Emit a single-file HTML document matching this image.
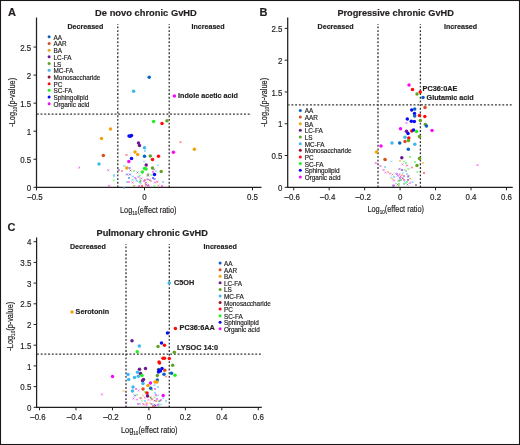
<!DOCTYPE html>
<html><head><meta charset="utf-8"><style>
html,body{margin:0;padding:0;background:#fff;}
svg{display:block;font-family:"Liberation Sans", sans-serif;will-change:transform;}
svg text{stroke:#231f20;stroke-width:0.18px;}
</style></head><body>
<svg width="520" height="445" viewBox="0 0 520 445">
<rect x="0.5" y="0.5" width="519" height="444" fill="none" stroke="#1b1718" stroke-width="1.1"/>
<line x1="117.8" y1="24" x2="117.8" y2="187.3" stroke="#333" stroke-width="1.3" stroke-dasharray="1.9 1.8" stroke-dashoffset="1.25"/>
<line x1="169.2" y1="24" x2="169.2" y2="187.3" stroke="#333" stroke-width="1.3" stroke-dasharray="1.9 1.8" stroke-dashoffset="1.25"/>
<line x1="37.1" y1="114.2" x2="251.5" y2="114.2" stroke="#333" stroke-width="1.25" stroke-dasharray="1.9 1.8" stroke-dashoffset="0.25"/>
<path d="M36.5,17.5 V187.3 H261.5" fill="none" stroke="#231f20" stroke-width="1.25"/>
<line x1="36.50" y1="187.3" x2="36.50" y2="190.3" stroke="#231f20" stroke-width="1"/>
<text transform="translate(35.00,200.00) scale(0.9,1)" font-size="8.8" font-weight="400" text-anchor="middle" fill="#231f20">&#8211;0.5</text>
<line x1="144.50" y1="187.3" x2="144.50" y2="190.3" stroke="#231f20" stroke-width="1"/>
<text transform="translate(144.50,200.00) scale(0.9,1)" font-size="8.8" font-weight="400" text-anchor="middle" fill="#231f20">0</text>
<line x1="252.50" y1="187.3" x2="252.50" y2="190.3" stroke="#231f20" stroke-width="1"/>
<text transform="translate(252.50,200.00) scale(0.9,1)" font-size="8.8" font-weight="400" text-anchor="middle" fill="#231f20">0.5</text>
<line x1="33.5" y1="187.30" x2="36.5" y2="187.30" stroke="#231f20" stroke-width="1"/>
<text transform="translate(31.20,190.90) scale(0.9,1)" font-size="8.8" font-weight="400" text-anchor="end" fill="#231f20">0</text>
<line x1="33.5" y1="159.25" x2="36.5" y2="159.25" stroke="#231f20" stroke-width="1"/>
<text transform="translate(31.20,162.85) scale(0.9,1)" font-size="8.8" font-weight="400" text-anchor="end" fill="#231f20">0.5</text>
<line x1="33.5" y1="131.20" x2="36.5" y2="131.20" stroke="#231f20" stroke-width="1"/>
<text transform="translate(31.20,134.80) scale(0.9,1)" font-size="8.8" font-weight="400" text-anchor="end" fill="#231f20">1</text>
<line x1="33.5" y1="103.15" x2="36.5" y2="103.15" stroke="#231f20" stroke-width="1"/>
<text transform="translate(31.20,106.75) scale(0.9,1)" font-size="8.8" font-weight="400" text-anchor="end" fill="#231f20">1.5</text>
<line x1="33.5" y1="75.10" x2="36.5" y2="75.10" stroke="#231f20" stroke-width="1"/>
<text transform="translate(31.20,78.70) scale(0.9,1)" font-size="8.8" font-weight="400" text-anchor="end" fill="#231f20">2</text>
<line x1="33.5" y1="47.05" x2="36.5" y2="47.05" stroke="#231f20" stroke-width="1"/>
<text transform="translate(31.20,50.65) scale(0.9,1)" font-size="8.8" font-weight="400" text-anchor="end" fill="#231f20">2.5</text>
<line x1="378.0" y1="24" x2="378.0" y2="187.3" stroke="#333" stroke-width="1.3" stroke-dasharray="1.9 1.8" stroke-dashoffset="1.25"/>
<line x1="420.4" y1="24" x2="420.4" y2="187.3" stroke="#333" stroke-width="1.3" stroke-dasharray="1.9 1.8" stroke-dashoffset="1.25"/>
<line x1="288.3" y1="104.8" x2="512.0" y2="104.8" stroke="#333" stroke-width="1.25" stroke-dasharray="1.9 1.8" stroke-dashoffset="0.55"/>
<path d="M287.7,17.5 V187.3 H512.8" fill="none" stroke="#231f20" stroke-width="1.25"/>
<line x1="293.72" y1="187.3" x2="293.72" y2="190.3" stroke="#231f20" stroke-width="1"/>
<text transform="translate(292.22,200.00) scale(0.9,1)" font-size="8.8" font-weight="400" text-anchor="middle" fill="#231f20">&#8211;0.6</text>
<line x1="329.18" y1="187.3" x2="329.18" y2="190.3" stroke="#231f20" stroke-width="1"/>
<text transform="translate(327.68,200.00) scale(0.9,1)" font-size="8.8" font-weight="400" text-anchor="middle" fill="#231f20">&#8211;0.4</text>
<line x1="364.64" y1="187.3" x2="364.64" y2="190.3" stroke="#231f20" stroke-width="1"/>
<text transform="translate(363.14,200.00) scale(0.9,1)" font-size="8.8" font-weight="400" text-anchor="middle" fill="#231f20">&#8211;0.2</text>
<line x1="400.10" y1="187.3" x2="400.10" y2="190.3" stroke="#231f20" stroke-width="1"/>
<text transform="translate(400.10,200.00) scale(0.9,1)" font-size="8.8" font-weight="400" text-anchor="middle" fill="#231f20">0</text>
<line x1="435.56" y1="187.3" x2="435.56" y2="190.3" stroke="#231f20" stroke-width="1"/>
<text transform="translate(435.56,200.00) scale(0.9,1)" font-size="8.8" font-weight="400" text-anchor="middle" fill="#231f20">0.2</text>
<line x1="471.02" y1="187.3" x2="471.02" y2="190.3" stroke="#231f20" stroke-width="1"/>
<text transform="translate(471.02,200.00) scale(0.9,1)" font-size="8.8" font-weight="400" text-anchor="middle" fill="#231f20">0.4</text>
<line x1="506.48" y1="187.3" x2="506.48" y2="190.3" stroke="#231f20" stroke-width="1"/>
<text transform="translate(506.48,200.00) scale(0.9,1)" font-size="8.8" font-weight="400" text-anchor="middle" fill="#231f20">0.6</text>
<line x1="284.7" y1="187.30" x2="287.7" y2="187.30" stroke="#231f20" stroke-width="1"/>
<text transform="translate(282.40,190.90) scale(0.9,1)" font-size="8.8" font-weight="400" text-anchor="end" fill="#231f20">0</text>
<line x1="284.7" y1="155.52" x2="287.7" y2="155.52" stroke="#231f20" stroke-width="1"/>
<text transform="translate(282.40,159.12) scale(0.9,1)" font-size="8.8" font-weight="400" text-anchor="end" fill="#231f20">0.5</text>
<line x1="284.7" y1="123.74" x2="287.7" y2="123.74" stroke="#231f20" stroke-width="1"/>
<text transform="translate(282.40,127.34) scale(0.9,1)" font-size="8.8" font-weight="400" text-anchor="end" fill="#231f20">1</text>
<line x1="284.7" y1="91.96" x2="287.7" y2="91.96" stroke="#231f20" stroke-width="1"/>
<text transform="translate(282.40,95.56) scale(0.9,1)" font-size="8.8" font-weight="400" text-anchor="end" fill="#231f20">1.5</text>
<line x1="284.7" y1="60.18" x2="287.7" y2="60.18" stroke="#231f20" stroke-width="1"/>
<text transform="translate(282.40,63.78) scale(0.9,1)" font-size="8.8" font-weight="400" text-anchor="end" fill="#231f20">2</text>
<line x1="284.7" y1="28.40" x2="287.7" y2="28.40" stroke="#231f20" stroke-width="1"/>
<text transform="translate(282.40,32.00) scale(0.9,1)" font-size="8.8" font-weight="400" text-anchor="end" fill="#231f20">2.5</text>
<line x1="126.0" y1="244" x2="126.0" y2="407.3" stroke="#333" stroke-width="1.3" stroke-dasharray="1.9 1.8" stroke-dashoffset="1.25"/>
<line x1="169.3" y1="244" x2="169.3" y2="407.3" stroke="#333" stroke-width="1.3" stroke-dasharray="1.9 1.8" stroke-dashoffset="1.25"/>
<line x1="37.2" y1="354.0" x2="260.8" y2="354.0" stroke="#333" stroke-width="1.25" stroke-dasharray="1.9 1.8" stroke-dashoffset="0.2"/>
<path d="M36.6,237.5 V407.3 H261.8" fill="none" stroke="#231f20" stroke-width="1.25"/>
<line x1="39.52" y1="407.3" x2="39.52" y2="410.3" stroke="#231f20" stroke-width="1"/>
<text transform="translate(38.02,420.00) scale(0.9,1)" font-size="8.8" font-weight="400" text-anchor="middle" fill="#231f20">&#8211;0.6</text>
<line x1="75.98" y1="407.3" x2="75.98" y2="410.3" stroke="#231f20" stroke-width="1"/>
<text transform="translate(74.48,420.00) scale(0.9,1)" font-size="8.8" font-weight="400" text-anchor="middle" fill="#231f20">&#8211;0.4</text>
<line x1="112.44" y1="407.3" x2="112.44" y2="410.3" stroke="#231f20" stroke-width="1"/>
<text transform="translate(110.94,420.00) scale(0.9,1)" font-size="8.8" font-weight="400" text-anchor="middle" fill="#231f20">&#8211;0.2</text>
<line x1="148.90" y1="407.3" x2="148.90" y2="410.3" stroke="#231f20" stroke-width="1"/>
<text transform="translate(148.90,420.00) scale(0.9,1)" font-size="8.8" font-weight="400" text-anchor="middle" fill="#231f20">0</text>
<line x1="185.36" y1="407.3" x2="185.36" y2="410.3" stroke="#231f20" stroke-width="1"/>
<text transform="translate(185.36,420.00) scale(0.9,1)" font-size="8.8" font-weight="400" text-anchor="middle" fill="#231f20">0.2</text>
<line x1="221.82" y1="407.3" x2="221.82" y2="410.3" stroke="#231f20" stroke-width="1"/>
<text transform="translate(221.82,420.00) scale(0.9,1)" font-size="8.8" font-weight="400" text-anchor="middle" fill="#231f20">0.4</text>
<line x1="258.28" y1="407.3" x2="258.28" y2="410.3" stroke="#231f20" stroke-width="1"/>
<text transform="translate(258.28,420.00) scale(0.9,1)" font-size="8.8" font-weight="400" text-anchor="middle" fill="#231f20">0.6</text>
<line x1="33.6" y1="407.30" x2="36.6" y2="407.30" stroke="#231f20" stroke-width="1"/>
<text transform="translate(31.30,410.90) scale(0.9,1)" font-size="8.8" font-weight="400" text-anchor="end" fill="#231f20">0</text>
<line x1="33.6" y1="386.60" x2="36.6" y2="386.60" stroke="#231f20" stroke-width="1"/>
<text transform="translate(31.30,390.20) scale(0.9,1)" font-size="8.8" font-weight="400" text-anchor="end" fill="#231f20">0.5</text>
<line x1="33.6" y1="365.90" x2="36.6" y2="365.90" stroke="#231f20" stroke-width="1"/>
<text transform="translate(31.30,369.50) scale(0.9,1)" font-size="8.8" font-weight="400" text-anchor="end" fill="#231f20">1</text>
<line x1="33.6" y1="345.20" x2="36.6" y2="345.20" stroke="#231f20" stroke-width="1"/>
<text transform="translate(31.30,348.80) scale(0.9,1)" font-size="8.8" font-weight="400" text-anchor="end" fill="#231f20">1.5</text>
<line x1="33.6" y1="324.50" x2="36.6" y2="324.50" stroke="#231f20" stroke-width="1"/>
<text transform="translate(31.30,328.10) scale(0.9,1)" font-size="8.8" font-weight="400" text-anchor="end" fill="#231f20">2</text>
<line x1="33.6" y1="303.80" x2="36.6" y2="303.80" stroke="#231f20" stroke-width="1"/>
<text transform="translate(31.30,307.40) scale(0.9,1)" font-size="8.8" font-weight="400" text-anchor="end" fill="#231f20">2.5</text>
<line x1="33.6" y1="283.10" x2="36.6" y2="283.10" stroke="#231f20" stroke-width="1"/>
<text transform="translate(31.30,286.70) scale(0.9,1)" font-size="8.8" font-weight="400" text-anchor="end" fill="#231f20">3</text>
<line x1="33.6" y1="262.40" x2="36.6" y2="262.40" stroke="#231f20" stroke-width="1"/>
<text transform="translate(31.30,266.00) scale(0.9,1)" font-size="8.8" font-weight="400" text-anchor="end" fill="#231f20">3.5</text>
<line x1="33.6" y1="241.70" x2="36.6" y2="241.70" stroke="#231f20" stroke-width="1"/>
<text transform="translate(31.30,245.30) scale(0.9,1)" font-size="8.8" font-weight="400" text-anchor="end" fill="#231f20">4</text>
<path d="M78.45,166.75l1.7,1.7M78.45,168.45l1.7,-1.7" stroke="#f50af5" stroke-width="0.85" opacity="0.7"/>
<path d="M107.45,169.45l1.7,1.7M107.45,171.15l1.7,-1.7" stroke="#f50af5" stroke-width="0.85" opacity="0.7"/>
<path d="M108.15,184.95l1.7,1.7M108.15,186.65l1.7,-1.7" stroke="#f50af5" stroke-width="0.85" opacity="0.7"/>
<path d="M179.65,141.35l1.7,1.7M179.65,143.05l1.7,-1.7" stroke="#ff0a0a" stroke-width="0.85" opacity="0.7"/>
<path d="M113.15,174.15l1.7,1.7M113.15,175.85l1.7,-1.7" stroke="#3cb8ef" stroke-width="0.85" opacity="0.7"/>
<path d="M113.15,175.65l1.7,1.7M113.15,177.35l1.7,-1.7" stroke="#3cb8ef" stroke-width="0.85" opacity="0.7"/>
<path d="M112.85,179.45l1.7,1.7M112.85,181.15l1.7,-1.7" stroke="#22ee22" stroke-width="0.85" opacity="0.7"/>
<path d="M123.45,165.15l1.7,1.7M123.45,166.85l1.7,-1.7" stroke="#3cb8ef" stroke-width="0.85" opacity="0.7"/>
<path d="M128.65,167.15l1.7,1.7M128.65,168.85l1.7,-1.7" stroke="#0a0af5" stroke-width="0.85" opacity="0.7"/>
<path d="M117.95,169.15l1.7,1.7M117.95,170.85l1.7,-1.7" stroke="#6c1a90" stroke-width="0.85" opacity="0.7"/>
<path d="M121.15,170.15l1.7,1.7M121.15,171.85l1.7,-1.7" stroke="#d9501c" stroke-width="0.85" opacity="0.7"/>
<path d="M129.75,169.65l1.7,1.7M129.75,171.35l1.7,-1.7" stroke="#6c1a90" stroke-width="0.85" opacity="0.7"/>
<path d="M133.15,170.15l1.7,1.7M133.15,171.85l1.7,-1.7" stroke="#22ee22" stroke-width="0.85" opacity="0.7"/>
<path d="M126.15,173.65l1.7,1.7M126.15,175.35l1.7,-1.7" stroke="#0a0af5" stroke-width="0.85" opacity="0.7"/>
<path d="M129.15,173.65l1.7,1.7M129.15,175.35l1.7,-1.7" stroke="#0a0af5" stroke-width="0.85" opacity="0.7"/>
<path d="M136.65,171.65l1.7,1.7M136.65,173.35l1.7,-1.7" stroke="#6c1a90" stroke-width="0.85" opacity="0.7"/>
<path d="M132.15,175.65l1.7,1.7M132.15,177.35l1.7,-1.7" stroke="#3cb8ef" stroke-width="0.85" opacity="0.7"/>
<path d="M128.15,177.15l1.7,1.7M128.15,178.85l1.7,-1.7" stroke="#0a62c4" stroke-width="0.85" opacity="0.7"/>
<path d="M131.65,179.15l1.7,1.7M131.65,180.85l1.7,-1.7" stroke="#3cb8ef" stroke-width="0.85" opacity="0.7"/>
<path d="M134.15,176.95l1.7,1.7M134.15,178.65l1.7,-1.7" stroke="#f50af5" stroke-width="0.85" opacity="0.7"/>
<path d="M137.65,176.15l1.7,1.7M137.65,177.85l1.7,-1.7" stroke="#f50af5" stroke-width="0.85" opacity="0.7"/>
<path d="M135.15,178.15l1.7,1.7M135.15,179.85l1.7,-1.7" stroke="#3cb8ef" stroke-width="0.85" opacity="0.7"/>
<path d="M139.15,174.65l1.7,1.7M139.15,176.35l1.7,-1.7" stroke="#22ee22" stroke-width="0.85" opacity="0.7"/>
<path d="M126.15,181.15l1.7,1.7M126.15,182.85l1.7,-1.7" stroke="#3cb8ef" stroke-width="0.85" opacity="0.7"/>
<path d="M127.95,181.15l1.7,1.7M127.95,182.85l1.7,-1.7" stroke="#f50af5" stroke-width="0.85" opacity="0.7"/>
<path d="M131.65,181.65l1.7,1.7M131.65,183.35l1.7,-1.7" stroke="#f50af5" stroke-width="0.85" opacity="0.7"/>
<path d="M138.75,181.15l1.7,1.7M138.75,182.85l1.7,-1.7" stroke="#22ee22" stroke-width="0.85" opacity="0.7"/>
<path d="M133.15,185.15l1.7,1.7M133.15,186.85l1.7,-1.7" stroke="#3cb8ef" stroke-width="0.85" opacity="0.7"/>
<path d="M133.65,185.15l1.7,1.7M133.65,186.85l1.7,-1.7" stroke="#f2a20c" stroke-width="0.85" opacity="0.7"/>
<path d="M138.15,185.15l1.7,1.7M138.15,186.85l1.7,-1.7" stroke="#f50af5" stroke-width="0.85" opacity="0.7"/>
<path d="M141.15,185.15l1.7,1.7M141.15,186.85l1.7,-1.7" stroke="#ff0a0a" stroke-width="0.85" opacity="0.7"/>
<path d="M123.15,187.15l1.7,1.7M123.15,188.85l1.7,-1.7" stroke="#3cb8ef" stroke-width="0.85" opacity="0.7"/>
<path d="M143.15,160.65l1.7,1.7M143.15,162.35l1.7,-1.7" stroke="#3cb8ef" stroke-width="0.85" opacity="0.7"/>
<path d="M157.15,164.45l1.7,1.7M157.15,166.15l1.7,-1.7" stroke="#3cb8ef" stroke-width="0.85" opacity="0.7"/>
<path d="M152.15,171.15l1.7,1.7M152.15,172.85l1.7,-1.7" stroke="#f50af5" stroke-width="0.85" opacity="0.7"/>
<path d="M155.15,170.65l1.7,1.7M155.15,172.35l1.7,-1.7" stroke="#3cb8ef" stroke-width="0.85" opacity="0.7"/>
<path d="M153.15,168.65l1.7,1.7M153.15,170.35l1.7,-1.7" stroke="#6c1a90" stroke-width="0.85" opacity="0.7"/>
<path d="M147.35,173.15l1.7,1.7M147.35,174.85l1.7,-1.7" stroke="#d9501c" stroke-width="0.85" opacity="0.7"/>
<path d="M147.35,174.65l1.7,1.7M147.35,176.35l1.7,-1.7" stroke="#0a62c4" stroke-width="0.85" opacity="0.7"/>
<path d="M150.65,174.15l1.7,1.7M150.65,175.85l1.7,-1.7" stroke="#22ee22" stroke-width="0.85" opacity="0.7"/>
<path d="M152.15,177.15l1.7,1.7M152.15,178.85l1.7,-1.7" stroke="#0a0af5" stroke-width="0.85" opacity="0.7"/>
<path d="M153.65,178.15l1.7,1.7M153.65,179.85l1.7,-1.7" stroke="#0a0af5" stroke-width="0.85" opacity="0.7"/>
<path d="M140.65,177.65l1.7,1.7M140.65,179.35l1.7,-1.7" stroke="#f50af5" stroke-width="0.85" opacity="0.7"/>
<path d="M144.15,179.15l1.7,1.7M144.15,180.85l1.7,-1.7" stroke="#d9501c" stroke-width="0.85" opacity="0.7"/>
<path d="M143.15,180.15l1.7,1.7M143.15,181.85l1.7,-1.7" stroke="#f50af5" stroke-width="0.85" opacity="0.7"/>
<path d="M154.15,181.65l1.7,1.7M154.15,183.35l1.7,-1.7" stroke="#f50af5" stroke-width="0.85" opacity="0.7"/>
<path d="M156.15,180.65l1.7,1.7M156.15,182.35l1.7,-1.7" stroke="#f50af5" stroke-width="0.85" opacity="0.7"/>
<path d="M162.15,181.15l1.7,1.7M162.15,182.85l1.7,-1.7" stroke="#3cb8ef" stroke-width="0.85" opacity="0.7"/>
<path d="M147.65,184.95l1.7,1.7M147.65,186.65l1.7,-1.7" stroke="#f50af5" stroke-width="0.85" opacity="0.7"/>
<path d="M153.65,185.15l1.7,1.7M153.65,186.85l1.7,-1.7" stroke="#22ee22" stroke-width="0.85" opacity="0.7"/>
<path d="M157.65,184.65l1.7,1.7M157.65,186.35l1.7,-1.7" stroke="#d9501c" stroke-width="0.85" opacity="0.7"/>
<path d="M161.15,185.15l1.7,1.7M161.15,186.85l1.7,-1.7" stroke="#f50af5" stroke-width="0.85" opacity="0.7"/>
<path d="M140.65,184.65l1.7,1.7M140.65,186.35l1.7,-1.7" stroke="#d9501c" stroke-width="0.85" opacity="0.7"/>
<path d="M145.15,181.65l1.7,1.7M145.15,183.35l1.7,-1.7" stroke="#6c1a90" stroke-width="0.85" opacity="0.7"/>
<path d="M139.65,182.15l1.7,1.7M139.65,183.85l1.7,-1.7" stroke="#3cb8ef" stroke-width="0.85" opacity="0.7"/>
<path d="M139.65,180.15l1.7,1.7M139.65,181.85l1.7,-1.7" stroke="#22ee22" stroke-width="0.85" opacity="0.7"/>
<path d="M125.65,154.15l1.7,1.7M125.65,155.85l1.7,-1.7" stroke="#ff0a0a" stroke-width="0.85" opacity="0.7"/>
<path d="M144.15,150.15l1.7,1.7M144.15,151.85l1.7,-1.7" stroke="#3cb8ef" stroke-width="0.85" opacity="0.7"/>
<path d="M476.65,164.35l1.7,1.7M476.65,166.05l1.7,-1.7" stroke="#f50af5" stroke-width="0.85" opacity="0.7"/>
<path d="M374.95,162.15l1.7,1.7M374.95,163.85l1.7,-1.7" stroke="#f50af5" stroke-width="0.85" opacity="0.7"/>
<path d="M405.65,122.15l1.7,1.7M405.65,123.85l1.7,-1.7" stroke="#f50af5" stroke-width="0.85" opacity="0.7"/>
<path d="M390.65,160.65l1.7,1.7M390.65,162.35l1.7,-1.7" stroke="#3cb8ef" stroke-width="0.85" opacity="0.7"/>
<path d="M399.15,160.15l1.7,1.7M399.15,161.85l1.7,-1.7" stroke="#f2a20c" stroke-width="0.85" opacity="0.7"/>
<path d="M403.15,160.65l1.7,1.7M403.15,162.35l1.7,-1.7" stroke="#22ee22" stroke-width="0.85" opacity="0.7"/>
<path d="M405.15,162.15l1.7,1.7M405.15,163.85l1.7,-1.7" stroke="#22ee22" stroke-width="0.85" opacity="0.7"/>
<path d="M401.65,163.65l1.7,1.7M401.65,165.35l1.7,-1.7" stroke="#f50af5" stroke-width="0.85" opacity="0.7"/>
<path d="M406.15,164.65l1.7,1.7M406.15,166.35l1.7,-1.7" stroke="#ff0a0a" stroke-width="0.85" opacity="0.7"/>
<path d="M411.15,166.65l1.7,1.7M411.15,168.35l1.7,-1.7" stroke="#ff0a0a" stroke-width="0.85" opacity="0.7"/>
<path d="M414.15,161.15l1.7,1.7M414.15,162.85l1.7,-1.7" stroke="#22ee22" stroke-width="0.85" opacity="0.7"/>
<path d="M379.65,165.15l1.7,1.7M379.65,166.85l1.7,-1.7" stroke="#f50af5" stroke-width="0.85" opacity="0.7"/>
<path d="M384.15,166.15l1.7,1.7M384.15,167.85l1.7,-1.7" stroke="#3cb8ef" stroke-width="0.85" opacity="0.7"/>
<path d="M398.65,168.15l1.7,1.7M398.65,169.85l1.7,-1.7" stroke="#6c1a90" stroke-width="0.85" opacity="0.7"/>
<path d="M401.15,169.15l1.7,1.7M401.15,170.85l1.7,-1.7" stroke="#0a0af5" stroke-width="0.85" opacity="0.7"/>
<path d="M403.65,169.15l1.7,1.7M403.65,170.85l1.7,-1.7" stroke="#f2a20c" stroke-width="0.85" opacity="0.7"/>
<path d="M405.15,170.15l1.7,1.7M405.15,171.85l1.7,-1.7" stroke="#3cb8ef" stroke-width="0.85" opacity="0.7"/>
<path d="M407.65,168.15l1.7,1.7M407.65,169.85l1.7,-1.7" stroke="#22ee22" stroke-width="0.85" opacity="0.7"/>
<path d="M382.65,169.15l1.7,1.7M382.65,170.85l1.7,-1.7" stroke="#f50af5" stroke-width="0.85" opacity="0.7"/>
<path d="M384.65,171.65l1.7,1.7M384.65,173.35l1.7,-1.7" stroke="#f50af5" stroke-width="0.85" opacity="0.7"/>
<path d="M387.15,171.15l1.7,1.7M387.15,172.85l1.7,-1.7" stroke="#f2a20c" stroke-width="0.85" opacity="0.7"/>
<path d="M389.15,172.65l1.7,1.7M389.15,174.35l1.7,-1.7" stroke="#f50af5" stroke-width="0.85" opacity="0.7"/>
<path d="M391.65,173.65l1.7,1.7M391.65,175.35l1.7,-1.7" stroke="#d9501c" stroke-width="0.85" opacity="0.7"/>
<path d="M394.65,172.65l1.7,1.7M394.65,174.35l1.7,-1.7" stroke="#3cb8ef" stroke-width="0.85" opacity="0.7"/>
<path d="M396.15,173.15l1.7,1.7M396.15,174.85l1.7,-1.7" stroke="#f50af5" stroke-width="0.85" opacity="0.7"/>
<path d="M397.15,174.65l1.7,1.7M397.15,176.35l1.7,-1.7" stroke="#f50af5" stroke-width="0.85" opacity="0.7"/>
<path d="M401.15,174.15l1.7,1.7M401.15,175.85l1.7,-1.7" stroke="#f2a20c" stroke-width="0.85" opacity="0.7"/>
<path d="M403.15,175.15l1.7,1.7M403.15,176.85l1.7,-1.7" stroke="#f50af5" stroke-width="0.85" opacity="0.7"/>
<path d="M406.15,173.15l1.7,1.7M406.15,174.85l1.7,-1.7" stroke="#3cb8ef" stroke-width="0.85" opacity="0.7"/>
<path d="M407.15,176.15l1.7,1.7M407.15,177.85l1.7,-1.7" stroke="#3cb8ef" stroke-width="0.85" opacity="0.7"/>
<path d="M407.65,175.15l1.7,1.7M407.65,176.85l1.7,-1.7" stroke="#6c1a90" stroke-width="0.85" opacity="0.7"/>
<path d="M390.15,176.65l1.7,1.7M390.15,178.35l1.7,-1.7" stroke="#3cb8ef" stroke-width="0.85" opacity="0.7"/>
<path d="M393.15,176.15l1.7,1.7M393.15,177.85l1.7,-1.7" stroke="#3cb8ef" stroke-width="0.85" opacity="0.7"/>
<path d="M391.65,178.15l1.7,1.7M391.65,179.85l1.7,-1.7" stroke="#f2a20c" stroke-width="0.85" opacity="0.7"/>
<path d="M399.65,175.65l1.7,1.7M399.65,177.35l1.7,-1.7" stroke="#f50af5" stroke-width="0.85" opacity="0.7"/>
<path d="M399.15,177.15l1.7,1.7M399.15,178.85l1.7,-1.7" stroke="#f50af5" stroke-width="0.85" opacity="0.7"/>
<path d="M400.15,179.15l1.7,1.7M400.15,180.85l1.7,-1.7" stroke="#22ee22" stroke-width="0.85" opacity="0.7"/>
<path d="M398.15,180.15l1.7,1.7M398.15,181.85l1.7,-1.7" stroke="#22ee22" stroke-width="0.85" opacity="0.7"/>
<path d="M393.15,179.65l1.7,1.7M393.15,181.35l1.7,-1.7" stroke="#f50af5" stroke-width="0.85" opacity="0.7"/>
<path d="M399.15,179.15l1.7,1.7M399.15,180.85l1.7,-1.7" stroke="#3cb8ef" stroke-width="0.85" opacity="0.7"/>
<path d="M401.65,177.65l1.7,1.7M401.65,179.35l1.7,-1.7" stroke="#d9501c" stroke-width="0.85" opacity="0.7"/>
<path d="M403.15,179.15l1.7,1.7M403.15,180.85l1.7,-1.7" stroke="#f50af5" stroke-width="0.85" opacity="0.7"/>
<path d="M406.15,181.15l1.7,1.7M406.15,182.85l1.7,-1.7" stroke="#22ee22" stroke-width="0.85" opacity="0.7"/>
<path d="M407.15,179.15l1.7,1.7M407.15,180.85l1.7,-1.7" stroke="#6c1a90" stroke-width="0.85" opacity="0.7"/>
<path d="M411.65,181.15l1.7,1.7M411.65,182.85l1.7,-1.7" stroke="#3cb8ef" stroke-width="0.85" opacity="0.7"/>
<path d="M406.65,183.65l1.7,1.7M406.65,185.35l1.7,-1.7" stroke="#6c1a90" stroke-width="0.85" opacity="0.7"/>
<path d="M392.65,184.15l1.7,1.7M392.65,185.85l1.7,-1.7" stroke="#f50af5" stroke-width="0.85" opacity="0.7"/>
<path d="M392.65,185.15l1.7,1.7M392.65,186.85l1.7,-1.7" stroke="#0a0af5" stroke-width="0.85" opacity="0.7"/>
<path d="M396.65,183.65l1.7,1.7M396.65,185.35l1.7,-1.7" stroke="#ff0a0a" stroke-width="0.85" opacity="0.7"/>
<path d="M398.15,183.15l1.7,1.7M398.15,184.85l1.7,-1.7" stroke="#22ee22" stroke-width="0.85" opacity="0.7"/>
<path d="M403.15,183.15l1.7,1.7M403.15,184.85l1.7,-1.7" stroke="#3cb8ef" stroke-width="0.85" opacity="0.7"/>
<path d="M416.65,171.15l1.7,1.7M416.65,172.85l1.7,-1.7" stroke="#22ee22" stroke-width="0.85" opacity="0.7"/>
<path d="M415.15,184.15l1.7,1.7M415.15,185.85l1.7,-1.7" stroke="#6c1a90" stroke-width="0.85" opacity="0.7"/>
<path d="M385.15,159.15l1.7,1.7M385.15,160.85l1.7,-1.7" stroke="#3cb8ef" stroke-width="0.85" opacity="0.7"/>
<path d="M409.15,156.15l1.7,1.7M409.15,157.85l1.7,-1.7" stroke="#22ee22" stroke-width="0.85" opacity="0.7"/>
<path d="M423.15,172.15l1.7,1.7M423.15,173.85l1.7,-1.7" stroke="#ff0a0a" stroke-width="0.85" opacity="0.7"/>
<path d="M422.15,162.15l1.7,1.7M422.15,163.85l1.7,-1.7" stroke="#f2a20c" stroke-width="0.85" opacity="0.7"/>
<path d="M101.15,393.65l1.7,1.7M101.15,395.35l1.7,-1.7" stroke="#f50af5" stroke-width="0.85" opacity="0.7"/>
<path d="M125.15,394.15l1.7,1.7M125.15,395.85l1.7,-1.7" stroke="#6c1a90" stroke-width="0.85" opacity="0.7"/>
<path d="M125.15,401.65l1.7,1.7M125.15,403.35l1.7,-1.7" stroke="#6c1a90" stroke-width="0.85" opacity="0.7"/>
<path d="M122.65,390.15l1.7,1.7M122.65,391.85l1.7,-1.7" stroke="#f2a20c" stroke-width="0.85" opacity="0.7"/>
<path d="M135.15,388.15l1.7,1.7M135.15,389.85l1.7,-1.7" stroke="#f50af5" stroke-width="0.85" opacity="0.7"/>
<path d="M137.65,389.65l1.7,1.7M137.65,391.35l1.7,-1.7" stroke="#f50af5" stroke-width="0.85" opacity="0.7"/>
<path d="M134.15,394.65l1.7,1.7M134.15,396.35l1.7,-1.7" stroke="#0a0af5" stroke-width="0.85" opacity="0.7"/>
<path d="M132.65,397.65l1.7,1.7M132.65,399.35l1.7,-1.7" stroke="#f50af5" stroke-width="0.85" opacity="0.7"/>
<path d="M136.15,398.65l1.7,1.7M136.15,400.35l1.7,-1.7" stroke="#f50af5" stroke-width="0.85" opacity="0.7"/>
<path d="M139.65,397.15l1.7,1.7M139.65,398.85l1.7,-1.7" stroke="#6c1a90" stroke-width="0.85" opacity="0.7"/>
<path d="M137.15,403.15l1.7,1.7M137.15,404.85l1.7,-1.7" stroke="#f50af5" stroke-width="0.85" opacity="0.7"/>
<path d="M139.15,403.15l1.7,1.7M139.15,404.85l1.7,-1.7" stroke="#3cb8ef" stroke-width="0.85" opacity="0.7"/>
<path d="M142.15,394.65l1.7,1.7M142.15,396.35l1.7,-1.7" stroke="#f2a20c" stroke-width="0.85" opacity="0.7"/>
<path d="M147.15,394.15l1.7,1.7M147.15,395.85l1.7,-1.7" stroke="#3cb8ef" stroke-width="0.85" opacity="0.7"/>
<path d="M151.15,389.15l1.7,1.7M151.15,390.85l1.7,-1.7" stroke="#22ee22" stroke-width="0.85" opacity="0.7"/>
<path d="M150.15,397.15l1.7,1.7M150.15,398.85l1.7,-1.7" stroke="#22ee22" stroke-width="0.85" opacity="0.7"/>
<path d="M151.15,398.65l1.7,1.7M151.15,400.35l1.7,-1.7" stroke="#ff0a0a" stroke-width="0.85" opacity="0.7"/>
<path d="M154.15,392.15l1.7,1.7M154.15,393.85l1.7,-1.7" stroke="#3cb8ef" stroke-width="0.85" opacity="0.7"/>
<path d="M155.15,394.15l1.7,1.7M155.15,395.85l1.7,-1.7" stroke="#f50af5" stroke-width="0.85" opacity="0.7"/>
<path d="M157.15,394.65l1.7,1.7M157.15,396.35l1.7,-1.7" stroke="#3cb8ef" stroke-width="0.85" opacity="0.7"/>
<path d="M156.15,398.15l1.7,1.7M156.15,399.85l1.7,-1.7" stroke="#f50af5" stroke-width="0.85" opacity="0.7"/>
<path d="M159.15,400.15l1.7,1.7M159.15,401.85l1.7,-1.7" stroke="#22ee22" stroke-width="0.85" opacity="0.7"/>
<path d="M150.65,403.15l1.7,1.7M150.65,404.85l1.7,-1.7" stroke="#6c1a90" stroke-width="0.85" opacity="0.7"/>
<path d="M145.65,404.15l1.7,1.7M145.65,405.85l1.7,-1.7" stroke="#f50af5" stroke-width="0.85" opacity="0.7"/>
<path d="M152.15,405.15l1.7,1.7M152.15,406.85l1.7,-1.7" stroke="#ff0a0a" stroke-width="0.85" opacity="0.7"/>
<path d="M157.65,403.15l1.7,1.7M157.65,404.85l1.7,-1.7" stroke="#3cb8ef" stroke-width="0.85" opacity="0.7"/>
<path d="M165.15,400.15l1.7,1.7M165.15,401.85l1.7,-1.7" stroke="#3cb8ef" stroke-width="0.85" opacity="0.7"/>
<path d="M160.15,399.15l1.7,1.7M160.15,400.85l1.7,-1.7" stroke="#f50af5" stroke-width="0.85" opacity="0.7"/>
<path d="M153.65,384.15l1.7,1.7M153.65,385.85l1.7,-1.7" stroke="#3cb8ef" stroke-width="0.85" opacity="0.7"/>
<path d="M157.15,386.15l1.7,1.7M157.15,387.85l1.7,-1.7" stroke="#3cb8ef" stroke-width="0.85" opacity="0.7"/>
<path d="M165.15,375.65l1.7,1.7M165.15,377.35l1.7,-1.7" stroke="#ff0a0a" stroke-width="0.85" opacity="0.7"/>
<path d="M154.15,388.15l1.7,1.7M154.15,389.85l1.7,-1.7" stroke="#f50af5" stroke-width="0.85" opacity="0.7"/>
<path d="M160.15,403.65l1.7,1.7M160.15,405.35l1.7,-1.7" stroke="#3cb8ef" stroke-width="0.85" opacity="0.7"/>
<path d="M144.15,391.15l1.7,1.7M144.15,392.85l1.7,-1.7" stroke="#22ee22" stroke-width="0.85" opacity="0.7"/>
<path d="M140.15,397.65l1.7,1.7M140.15,399.35l1.7,-1.7" stroke="#f2a20c" stroke-width="0.85" opacity="0.7"/>
<path d="M144.15,400.15l1.7,1.7M144.15,401.85l1.7,-1.7" stroke="#3cb8ef" stroke-width="0.85" opacity="0.7"/>
<path d="M147.51,183.96l1.6,1.6M147.51,185.56l1.6,-1.6" stroke="#f50af5" stroke-width="0.8" opacity="0.6"/>
<path d="M146.74,174.87l1.6,1.6M146.74,176.47l1.6,-1.6" stroke="#d9501c" stroke-width="0.8" opacity="0.6"/>
<path d="M145.39,184.12l1.6,1.6M145.39,185.72l1.6,-1.6" stroke="#0a0af5" stroke-width="0.8" opacity="0.6"/>
<path d="M146.78,184.94l1.6,1.6M146.78,186.54l1.6,-1.6" stroke="#ff0a0a" stroke-width="0.8" opacity="0.6"/>
<path d="M144.73,183.13l1.6,1.6M144.73,184.73l1.6,-1.6" stroke="#ff0a0a" stroke-width="0.8" opacity="0.6"/>
<path d="M146.55,178.28l1.6,1.6M146.55,179.88l1.6,-1.6" stroke="#6c1a90" stroke-width="0.8" opacity="0.6"/>
<path d="M135.89,180.09l1.6,1.6M135.89,181.69l1.6,-1.6" stroke="#0a62c4" stroke-width="0.8" opacity="0.6"/>
<path d="M139.65,180.16l1.6,1.6M139.65,181.76l1.6,-1.6" stroke="#6c1a90" stroke-width="0.8" opacity="0.6"/>
<path d="M146.75,174.14l1.6,1.6M146.75,175.74l1.6,-1.6" stroke="#62a323" stroke-width="0.8" opacity="0.6"/>
<path d="M147.63,178.96l1.6,1.6M147.63,180.56l1.6,-1.6" stroke="#f50af5" stroke-width="0.8" opacity="0.6"/>
<path d="M156.74,181.53l1.6,1.6M156.74,183.13l1.6,-1.6" stroke="#f2a20c" stroke-width="0.8" opacity="0.6"/>
<path d="M148.99,179.27l1.6,1.6M148.99,180.87l1.6,-1.6" stroke="#6c1a90" stroke-width="0.8" opacity="0.6"/>
<path d="M150.07,180.24l1.6,1.6M150.07,181.84l1.6,-1.6" stroke="#d9501c" stroke-width="0.8" opacity="0.6"/>
<path d="M139.35,177.84l1.6,1.6M139.35,179.44l1.6,-1.6" stroke="#22ee22" stroke-width="0.8" opacity="0.6"/>
<path d="M394.99,182.82l1.6,1.6M394.99,184.42l1.6,-1.6" stroke="#3cb8ef" stroke-width="0.8" opacity="0.6"/>
<path d="M402.08,172.21l1.6,1.6M402.08,173.81l1.6,-1.6" stroke="#3cb8ef" stroke-width="0.8" opacity="0.6"/>
<path d="M409.27,182.22l1.6,1.6M409.27,183.82l1.6,-1.6" stroke="#f50af5" stroke-width="0.8" opacity="0.6"/>
<path d="M397.85,185.04l1.6,1.6M397.85,186.64l1.6,-1.6" stroke="#62a323" stroke-width="0.8" opacity="0.6"/>
<path d="M398.90,173.41l1.6,1.6M398.90,175.01l1.6,-1.6" stroke="#f50af5" stroke-width="0.8" opacity="0.6"/>
<path d="M402.23,177.70l1.6,1.6M402.23,179.30l1.6,-1.6" stroke="#d9501c" stroke-width="0.8" opacity="0.6"/>
<path d="M403.83,180.90l1.6,1.6M403.83,182.50l1.6,-1.6" stroke="#3cb8ef" stroke-width="0.8" opacity="0.6"/>
<path d="M409.37,177.87l1.6,1.6M409.37,179.47l1.6,-1.6" stroke="#ff0a0a" stroke-width="0.8" opacity="0.6"/>
<path d="M401.85,176.86l1.6,1.6M401.85,178.46l1.6,-1.6" stroke="#3cb8ef" stroke-width="0.8" opacity="0.6"/>
<path d="M397.45,175.61l1.6,1.6M397.45,177.21l1.6,-1.6" stroke="#3cb8ef" stroke-width="0.8" opacity="0.6"/>
<path d="M404.43,182.51l1.6,1.6M404.43,184.11l1.6,-1.6" stroke="#22ee22" stroke-width="0.8" opacity="0.6"/>
<path d="M397.56,179.69l1.6,1.6M397.56,181.29l1.6,-1.6" stroke="#d9501c" stroke-width="0.8" opacity="0.6"/>
<path d="M147.68,399.10l1.6,1.6M147.68,400.70l1.6,-1.6" stroke="#f50af5" stroke-width="0.8" opacity="0.6"/>
<path d="M154.07,396.57l1.6,1.6M154.07,398.17l1.6,-1.6" stroke="#62a323" stroke-width="0.8" opacity="0.6"/>
<path d="M136.30,394.10l1.6,1.6M136.30,395.70l1.6,-1.6" stroke="#22ee22" stroke-width="0.8" opacity="0.6"/>
<path d="M157.47,404.22l1.6,1.6M157.47,405.82l1.6,-1.6" stroke="#f50af5" stroke-width="0.8" opacity="0.6"/>
<path d="M162.22,397.34l1.6,1.6M162.22,398.94l1.6,-1.6" stroke="#3cb8ef" stroke-width="0.8" opacity="0.6"/>
<path d="M153.46,404.03l1.6,1.6M153.46,405.63l1.6,-1.6" stroke="#0a62c4" stroke-width="0.8" opacity="0.6"/>
<path d="M156.34,404.52l1.6,1.6M156.34,406.12l1.6,-1.6" stroke="#f50af5" stroke-width="0.8" opacity="0.6"/>
<path d="M157.95,405.41l1.6,1.6M157.95,407.01l1.6,-1.6" stroke="#22ee22" stroke-width="0.8" opacity="0.6"/>
<path d="M153.72,399.77l1.6,1.6M153.72,401.37l1.6,-1.6" stroke="#0a0af5" stroke-width="0.8" opacity="0.6"/>
<path d="M154.31,404.93l1.6,1.6M154.31,406.53l1.6,-1.6" stroke="#ff0a0a" stroke-width="0.8" opacity="0.6"/>
<path d="M145.83,402.32l1.6,1.6M145.83,403.92l1.6,-1.6" stroke="#ff0a0a" stroke-width="0.8" opacity="0.6"/>
<path d="M149.43,396.44l1.6,1.6M149.43,398.04l1.6,-1.6" stroke="#ff0a0a" stroke-width="0.8" opacity="0.6"/>
<path d="M149.13,402.19l1.6,1.6M149.13,403.79l1.6,-1.6" stroke="#f2a20c" stroke-width="0.8" opacity="0.6"/>
<path d="M158.29,400.39l1.6,1.6M158.29,401.99l1.6,-1.6" stroke="#0a62c4" stroke-width="0.8" opacity="0.6"/>
<path d="M150.98,397.53l1.6,1.6M150.98,399.13l1.6,-1.6" stroke="#62a323" stroke-width="0.8" opacity="0.6"/>
<path d="M154.42,404.83l1.6,1.6M154.42,406.43l1.6,-1.6" stroke="#0a0af5" stroke-width="0.8" opacity="0.6"/>
<path d="M156.58,400.22l1.6,1.6M156.58,401.82l1.6,-1.6" stroke="#f2a20c" stroke-width="0.8" opacity="0.6"/>
<path d="M142.05,402.86l1.6,1.6M142.05,404.46l1.6,-1.6" stroke="#f50af5" stroke-width="0.8" opacity="0.6"/>
<path d="M141.12,399.96l1.6,1.6M141.12,401.56l1.6,-1.6" stroke="#22ee22" stroke-width="0.8" opacity="0.6"/>
<path d="M143.92,397.07l1.6,1.6M143.92,398.67l1.6,-1.6" stroke="#f50af5" stroke-width="0.8" opacity="0.6"/>
<path d="M143.10,403.73l1.6,1.6M143.10,405.33l1.6,-1.6" stroke="#ff0a0a" stroke-width="0.8" opacity="0.6"/>
<path d="M154.95,400.09l1.6,1.6M154.95,401.69l1.6,-1.6" stroke="#ff0a0a" stroke-width="0.8" opacity="0.6"/>
<circle cx="149.2" cy="77.3" r="1.75" fill="#0a62c4"/>
<circle cx="133.6" cy="91.2" r="1.75" fill="#3cb8ef"/>
<circle cx="174.4" cy="96" r="1.75" fill="#f50af5"/>
<circle cx="101.5" cy="138.5" r="1.75" fill="#f2a20c"/>
<circle cx="110.5" cy="129" r="1.75" fill="#f2a20c"/>
<circle cx="103.3" cy="155.5" r="1.75" fill="#d9501c"/>
<circle cx="99" cy="164" r="1.75" fill="#3cb8ef"/>
<circle cx="153.6" cy="121.6" r="1.75" fill="#22ee22"/>
<circle cx="162" cy="123.5" r="1.75" fill="#ff0a0a"/>
<circle cx="167" cy="120.8" r="1.75" fill="#62a323"/>
<circle cx="129" cy="136" r="1.75" fill="#0a0af5"/>
<circle cx="131.5" cy="135.5" r="1.75" fill="#0a0af5"/>
<circle cx="130.3" cy="136.2" r="1.75" fill="#0a0af5"/>
<circle cx="138.5" cy="143" r="1.75" fill="#6c1a90"/>
<circle cx="139.5" cy="145.5" r="1.75" fill="#6c1a90"/>
<circle cx="144.5" cy="147.7" r="1.75" fill="#3cb8ef"/>
<circle cx="135" cy="152" r="1.75" fill="#f2a20c"/>
<circle cx="137.7" cy="154.6" r="1.75" fill="#f2a20c"/>
<circle cx="144.5" cy="156.3" r="1.75" fill="#0a62c4"/>
<circle cx="150.3" cy="156" r="1.75" fill="#62a323"/>
<circle cx="158.5" cy="156.3" r="1.75" fill="#ff0a0a"/>
<circle cx="152.5" cy="159.5" r="1.75" fill="#ff0a0a"/>
<circle cx="131.5" cy="158.5" r="1.75" fill="#0a0af5"/>
<circle cx="128.8" cy="161.5" r="1.75" fill="#f50af5"/>
<circle cx="146.2" cy="165" r="1.75" fill="#6c1a90"/>
<circle cx="126.8" cy="168" r="1.75" fill="#f2a20c"/>
<circle cx="144.5" cy="168.5" r="1.75" fill="#22ee22"/>
<circle cx="146" cy="169" r="1.75" fill="#22ee22"/>
<circle cx="152.5" cy="168" r="1.75" fill="#62a323"/>
<circle cx="142.3" cy="172" r="1.75" fill="#22ee22"/>
<circle cx="161.2" cy="171.5" r="1.75" fill="#62a323"/>
<circle cx="154.5" cy="174.5" r="1.75" fill="#0a0af5"/>
<circle cx="194.4" cy="149.2" r="1.75" fill="#f2a20c"/>
<circle cx="173.4" cy="152.3" r="1.75" fill="#f50af5"/>
<circle cx="409" cy="85" r="1.75" fill="#f50af5"/>
<circle cx="412.5" cy="89.5" r="1.75" fill="#ff0a0a"/>
<circle cx="420.3" cy="92" r="1.75" fill="#ff0a0a"/>
<circle cx="417" cy="94" r="1.75" fill="#62a323"/>
<circle cx="423" cy="97.5" r="1.75" fill="#0a62c4"/>
<circle cx="425" cy="107.5" r="1.75" fill="#d9501c"/>
<circle cx="411.7" cy="110" r="1.75" fill="#0a0af5"/>
<circle cx="414.7" cy="109" r="1.75" fill="#0a62c4"/>
<circle cx="414.5" cy="113.5" r="1.75" fill="#0a0af5"/>
<circle cx="414.7" cy="116" r="1.75" fill="#0a62c4"/>
<circle cx="419.5" cy="115.5" r="1.75" fill="#ff0a0a"/>
<circle cx="424.8" cy="116.5" r="1.75" fill="#ff0a0a"/>
<circle cx="407.3" cy="119" r="1.75" fill="#0a0af5"/>
<circle cx="411.3" cy="121.3" r="1.75" fill="#0a0af5"/>
<circle cx="414.3" cy="121.6" r="1.75" fill="#0a0af5"/>
<circle cx="420.3" cy="120.5" r="1.75" fill="#62a323"/>
<circle cx="425.3" cy="124.5" r="1.75" fill="#62a323"/>
<circle cx="426.5" cy="126" r="1.75" fill="#0a62c4"/>
<circle cx="400.5" cy="128.7" r="1.75" fill="#f50af5"/>
<circle cx="406.5" cy="131.3" r="1.75" fill="#6c1a90"/>
<circle cx="408" cy="133.5" r="1.75" fill="#0a0af5"/>
<circle cx="411.8" cy="131" r="1.75" fill="#ff0a0a"/>
<circle cx="413.5" cy="130" r="1.75" fill="#0a0af5"/>
<circle cx="416.5" cy="131.5" r="1.75" fill="#22ee22"/>
<circle cx="432" cy="130.5" r="1.75" fill="#f50af5"/>
<circle cx="405" cy="137.3" r="1.75" fill="#3cb8ef"/>
<circle cx="408.8" cy="138" r="1.75" fill="#ff0a0a"/>
<circle cx="419.5" cy="136.5" r="1.75" fill="#62a323"/>
<circle cx="392" cy="143" r="1.75" fill="#3cb8ef"/>
<circle cx="399.7" cy="143" r="1.75" fill="#0a62c4"/>
<circle cx="405" cy="141.5" r="1.75" fill="#d9501c"/>
<circle cx="408.5" cy="140.5" r="1.75" fill="#62a323"/>
<circle cx="381" cy="146" r="1.75" fill="#f50af5"/>
<circle cx="414.8" cy="144.2" r="1.75" fill="#3cb8ef"/>
<circle cx="408.3" cy="149.3" r="1.75" fill="#0a62c4"/>
<circle cx="376.5" cy="152" r="1.75" fill="#f2a20c"/>
<circle cx="385" cy="159.5" r="1.75" fill="#d9501c"/>
<circle cx="401.8" cy="157.8" r="1.75" fill="#6c1a90"/>
<circle cx="419.5" cy="158.5" r="1.75" fill="#62a323"/>
<circle cx="417" cy="165.5" r="1.75" fill="#62a323"/>
<circle cx="169.2" cy="283" r="1.75" fill="#3cb8ef"/>
<circle cx="72" cy="312" r="1.75" fill="#f2a20c"/>
<circle cx="175.4" cy="328.6" r="1.75" fill="#ff0a0a"/>
<circle cx="167.5" cy="333" r="1.75" fill="#0a0af5"/>
<circle cx="132" cy="340.8" r="1.75" fill="#6c1a90"/>
<circle cx="139.3" cy="346" r="1.75" fill="#3cb8ef"/>
<circle cx="137.2" cy="351.7" r="1.75" fill="#22ee22"/>
<circle cx="161.5" cy="343" r="1.75" fill="#0a0af5"/>
<circle cx="164.5" cy="345.3" r="1.75" fill="#ff0a0a"/>
<circle cx="158" cy="346.5" r="1.75" fill="#62a323"/>
<circle cx="174.3" cy="352.3" r="1.75" fill="#62a323"/>
<circle cx="163" cy="358.3" r="1.75" fill="#ff0a0a"/>
<circle cx="164.5" cy="358.3" r="1.75" fill="#ff0a0a"/>
<circle cx="169.3" cy="358.5" r="1.75" fill="#ff0a0a"/>
<circle cx="159" cy="362" r="1.75" fill="#ff0a0a"/>
<circle cx="159.5" cy="363" r="1.75" fill="#ff0a0a"/>
<circle cx="172.7" cy="365.3" r="1.75" fill="#62a323"/>
<circle cx="158.5" cy="369.5" r="1.75" fill="#62a323"/>
<circle cx="158.5" cy="372" r="1.75" fill="#0a0af5"/>
<circle cx="160.5" cy="371" r="1.75" fill="#0a0af5"/>
<circle cx="162" cy="368.5" r="1.75" fill="#0a0af5"/>
<circle cx="159" cy="370" r="1.75" fill="#0a0af5"/>
<circle cx="157.3" cy="375.5" r="1.75" fill="#62a323"/>
<circle cx="164.8" cy="370.2" r="1.75" fill="#d9501c"/>
<circle cx="164" cy="374.3" r="1.75" fill="#0a62c4"/>
<circle cx="171.5" cy="373.3" r="1.75" fill="#0a62c4"/>
<circle cx="175" cy="375.3" r="1.75" fill="#22ee22"/>
<circle cx="157.3" cy="380" r="1.75" fill="#0a62c4"/>
<circle cx="155" cy="382" r="1.75" fill="#f2a20c"/>
<circle cx="157" cy="382" r="1.75" fill="#f2a20c"/>
<circle cx="150.5" cy="383" r="1.75" fill="#f50af5"/>
<circle cx="150.7" cy="388.3" r="1.75" fill="#0a62c4"/>
<circle cx="163.2" cy="395.6" r="1.75" fill="#f50af5"/>
<circle cx="112.5" cy="376.5" r="1.75" fill="#f50af5"/>
<circle cx="128" cy="374.5" r="1.75" fill="#3cb8ef"/>
<circle cx="128.7" cy="379.5" r="1.75" fill="#3cb8ef"/>
<circle cx="137.5" cy="372.3" r="1.75" fill="#3cb8ef"/>
<circle cx="134.5" cy="377.5" r="1.75" fill="#3cb8ef"/>
<circle cx="138.3" cy="376.2" r="1.75" fill="#3cb8ef"/>
<circle cx="139.5" cy="369.3" r="1.75" fill="#6c1a90"/>
<circle cx="145.5" cy="368.5" r="1.75" fill="#6c1a90"/>
<circle cx="140.5" cy="373.5" r="1.75" fill="#6c1a90"/>
<circle cx="142" cy="375.5" r="1.75" fill="#22ee22"/>
<circle cx="143.5" cy="379.5" r="1.75" fill="#6c1a90"/>
<circle cx="142.5" cy="380.8" r="1.75" fill="#6c1a90"/>
<circle cx="143" cy="383.5" r="1.75" fill="#3cb8ef"/>
<circle cx="148" cy="385.5" r="1.75" fill="#f2a20c"/>
<circle cx="133" cy="387" r="1.75" fill="#3cb8ef"/>
<circle cx="132.5" cy="391" r="1.75" fill="#3cb8ef"/>
<circle cx="143" cy="389" r="1.75" fill="#d9501c"/>
<circle cx="147" cy="393" r="1.75" fill="#ff0a0a"/>
<circle cx="147.5" cy="396" r="1.75" fill="#6c1a90"/>
<circle cx="49.10" cy="36.80" r="1.5" fill="#0a62c4"/>
<text x="53.50" y="39.80" font-size="6.4" font-weight="400" text-anchor="start" fill="#231f20">AA</text>
<circle cx="49.10" cy="43.49" r="1.5" fill="#d9501c"/>
<text x="53.50" y="46.49" font-size="6.4" font-weight="400" text-anchor="start" fill="#231f20">AAR</text>
<circle cx="49.10" cy="50.18" r="1.5" fill="#f2a20c"/>
<text x="53.50" y="53.18" font-size="6.4" font-weight="400" text-anchor="start" fill="#231f20">BA</text>
<circle cx="49.10" cy="56.87" r="1.5" fill="#6c1a90"/>
<text x="53.50" y="59.87" font-size="6.4" font-weight="400" text-anchor="start" fill="#231f20">LC-FA</text>
<circle cx="49.10" cy="63.56" r="1.5" fill="#62a323"/>
<text x="53.50" y="66.56" font-size="6.4" font-weight="400" text-anchor="start" fill="#231f20">LS</text>
<circle cx="49.10" cy="70.25" r="1.5" fill="#3cb8ef"/>
<text x="53.50" y="73.25" font-size="6.4" font-weight="400" text-anchor="start" fill="#231f20">MC-FA</text>
<circle cx="49.10" cy="76.94" r="1.5" fill="#99122c"/>
<text x="53.50" y="79.94" font-size="6.4" font-weight="400" text-anchor="start" fill="#231f20">Monosaccharide</text>
<circle cx="49.10" cy="83.63" r="1.5" fill="#ff0a0a"/>
<text x="53.50" y="86.63" font-size="6.4" font-weight="400" text-anchor="start" fill="#231f20">PC</text>
<circle cx="49.10" cy="90.32" r="1.5" fill="#22ee22"/>
<text x="53.50" y="93.32" font-size="6.4" font-weight="400" text-anchor="start" fill="#231f20">SC-FA</text>
<circle cx="49.10" cy="97.01" r="1.5" fill="#0a0af5"/>
<text x="53.50" y="100.01" font-size="6.4" font-weight="400" text-anchor="start" fill="#231f20">Sphingolipid</text>
<circle cx="49.10" cy="103.70" r="1.5" fill="#f50af5"/>
<text x="53.50" y="106.70" font-size="6.4" font-weight="400" text-anchor="start" fill="#231f20">Organic acid</text>
<circle cx="300.30" cy="110.40" r="1.5" fill="#0a62c4"/>
<text x="304.70" y="113.40" font-size="6.4" font-weight="400" text-anchor="start" fill="#231f20">AA</text>
<circle cx="300.30" cy="117.05" r="1.5" fill="#d9501c"/>
<text x="304.70" y="120.05" font-size="6.4" font-weight="400" text-anchor="start" fill="#231f20">AAR</text>
<circle cx="300.30" cy="123.70" r="1.5" fill="#f2a20c"/>
<text x="304.70" y="126.70" font-size="6.4" font-weight="400" text-anchor="start" fill="#231f20">BA</text>
<circle cx="300.30" cy="130.35" r="1.5" fill="#6c1a90"/>
<text x="304.70" y="133.35" font-size="6.4" font-weight="400" text-anchor="start" fill="#231f20">LC-FA</text>
<circle cx="300.30" cy="137.00" r="1.5" fill="#62a323"/>
<text x="304.70" y="140.00" font-size="6.4" font-weight="400" text-anchor="start" fill="#231f20">LS</text>
<circle cx="300.30" cy="143.65" r="1.5" fill="#3cb8ef"/>
<text x="304.70" y="146.65" font-size="6.4" font-weight="400" text-anchor="start" fill="#231f20">MC-FA</text>
<circle cx="300.30" cy="150.30" r="1.5" fill="#99122c"/>
<text x="304.70" y="153.30" font-size="6.4" font-weight="400" text-anchor="start" fill="#231f20">Monosaccharide</text>
<circle cx="300.30" cy="156.95" r="1.5" fill="#ff0a0a"/>
<text x="304.70" y="159.95" font-size="6.4" font-weight="400" text-anchor="start" fill="#231f20">PC</text>
<circle cx="300.30" cy="163.60" r="1.5" fill="#22ee22"/>
<text x="304.70" y="166.60" font-size="6.4" font-weight="400" text-anchor="start" fill="#231f20">SC-FA</text>
<circle cx="300.30" cy="170.25" r="1.5" fill="#0a0af5"/>
<text x="304.70" y="173.25" font-size="6.4" font-weight="400" text-anchor="start" fill="#231f20">Sphingolipid</text>
<circle cx="300.30" cy="176.90" r="1.5" fill="#f50af5"/>
<text x="304.70" y="179.90" font-size="6.4" font-weight="400" text-anchor="start" fill="#231f20">Organic acid</text>
<circle cx="220.10" cy="263.10" r="1.5" fill="#0a62c4"/>
<text x="223.90" y="266.10" font-size="6.4" font-weight="400" text-anchor="start" fill="#231f20">AA</text>
<circle cx="220.10" cy="269.67" r="1.5" fill="#d9501c"/>
<text x="223.90" y="272.67" font-size="6.4" font-weight="400" text-anchor="start" fill="#231f20">AAR</text>
<circle cx="220.10" cy="276.24" r="1.5" fill="#f2a20c"/>
<text x="223.90" y="279.24" font-size="6.4" font-weight="400" text-anchor="start" fill="#231f20">BA</text>
<circle cx="220.10" cy="282.81" r="1.5" fill="#6c1a90"/>
<text x="223.90" y="285.81" font-size="6.4" font-weight="400" text-anchor="start" fill="#231f20">LC-FA</text>
<circle cx="220.10" cy="289.38" r="1.5" fill="#62a323"/>
<text x="223.90" y="292.38" font-size="6.4" font-weight="400" text-anchor="start" fill="#231f20">LS</text>
<circle cx="220.10" cy="295.95" r="1.5" fill="#3cb8ef"/>
<text x="223.90" y="298.95" font-size="6.4" font-weight="400" text-anchor="start" fill="#231f20">MC-FA</text>
<circle cx="220.10" cy="302.52" r="1.5" fill="#99122c"/>
<text x="223.90" y="305.52" font-size="6.4" font-weight="400" text-anchor="start" fill="#231f20">Monosaccharide</text>
<circle cx="220.10" cy="309.09" r="1.5" fill="#ff0a0a"/>
<text x="223.90" y="312.09" font-size="6.4" font-weight="400" text-anchor="start" fill="#231f20">PC</text>
<circle cx="220.10" cy="315.66" r="1.5" fill="#22ee22"/>
<text x="223.90" y="318.66" font-size="6.4" font-weight="400" text-anchor="start" fill="#231f20">SC-FA</text>
<circle cx="220.10" cy="322.23" r="1.5" fill="#0a0af5"/>
<text x="223.90" y="325.23" font-size="6.4" font-weight="400" text-anchor="start" fill="#231f20">Sphingolipid</text>
<circle cx="220.10" cy="328.80" r="1.5" fill="#f50af5"/>
<text x="223.90" y="331.80" font-size="6.4" font-weight="400" text-anchor="start" fill="#231f20">Organic acid</text>
<text x="146.00" y="15.80" font-size="9.35" font-weight="700" text-anchor="middle" fill="#231f20">De novo chronic GvHD</text>
<text x="395.60" y="16.00" font-size="9.2" font-weight="700" text-anchor="middle" fill="#231f20">Progressive chronic GvHD</text>
<text x="152.20" y="236.00" font-size="9.2" font-weight="700" text-anchor="middle" fill="#231f20">Pulmonary chronic GvHD</text>
<text x="7.90" y="15.90" font-size="11" font-weight="700" text-anchor="start" fill="#231f20">A</text>
<text x="259.50" y="16.00" font-size="11" font-weight="700" text-anchor="start" fill="#231f20">B</text>
<text x="7.60" y="231.40" font-size="11" font-weight="700" text-anchor="start" fill="#231f20">C</text>
<text x="67.50" y="28.70" font-size="7.1" font-weight="700" text-anchor="start" fill="#231f20">Decreased</text>
<text x="191.50" y="28.70" font-size="7.1" font-weight="700" text-anchor="start" fill="#231f20">Increased</text>
<text x="317.60" y="28.60" font-size="7.1" font-weight="700" text-anchor="start" fill="#231f20">Decreased</text>
<text x="444.00" y="28.60" font-size="7.1" font-weight="700" text-anchor="start" fill="#231f20">Increased</text>
<text x="70.00" y="248.60" font-size="7.1" font-weight="700" text-anchor="start" fill="#231f20">Decreased</text>
<text x="203.60" y="248.60" font-size="7.1" font-weight="700" text-anchor="start" fill="#231f20">Increased</text>
<text x="178.00" y="98.00" font-size="7.2" font-weight="700" text-anchor="start" fill="#231f20">Indole acetic acid</text>
<text x="422.60" y="90.60" font-size="7.3" font-weight="700" text-anchor="start" fill="#231f20">PC36:0AE</text>
<text x="426.60" y="99.60" font-size="7.2" font-weight="700" text-anchor="start" fill="#231f20">Glutamic acid</text>
<text x="174.00" y="285.00" font-size="7.3" font-weight="700" text-anchor="start" fill="#231f20">C5OH</text>
<text x="75.60" y="314.00" font-size="7.2" font-weight="700" text-anchor="start" fill="#231f20">Serotonin</text>
<text x="179.60" y="330.40" font-size="7.3" font-weight="700" text-anchor="start" fill="#231f20">PC36:6AA</text>
<text x="177.00" y="350.00" font-size="7.3" font-weight="700" text-anchor="start" fill="#231f20">LYSOC 14:0</text>
<text x="148.3" y="213.0" font-size="8.9" text-anchor="middle" fill="#231f20" transform="translate(148.3,0) scale(0.83,1) translate(-148.3,0)">Log<tspan font-size="5.5" dy="2">10</tspan><tspan dy="-2">(effect ratio)</tspan></text>
<text x="395.7" y="211.8" font-size="8.9" text-anchor="middle" fill="#231f20" transform="translate(395.7,0) scale(0.83,1) translate(-395.7,0)">Log<tspan font-size="5.5" dy="2">10</tspan><tspan dy="-2">(effect ratio)</tspan></text>
<text x="149.3" y="433.0" font-size="8.9" text-anchor="middle" fill="#231f20" transform="translate(149.3,0) scale(0.83,1) translate(-149.3,0)">Log<tspan font-size="5.5" dy="2">10</tspan><tspan dy="-2">(effect ratio)</tspan></text>
<text x="0" y="0" font-size="8.9" text-anchor="middle" fill="#231f20" transform="translate(15.3,102.3) rotate(-90) scale(0.83,1)">-Log<tspan font-size="5.5" dy="2">10</tspan><tspan dy="-2">(p-value)</tspan></text>
<text x="0" y="0" font-size="8.9" text-anchor="middle" fill="#231f20" transform="translate(266.6,102.3) rotate(-90) scale(0.83,1)">-Log<tspan font-size="5.5" dy="2">10</tspan><tspan dy="-2">(p-value)</tspan></text>
<text x="0" y="0" font-size="8.9" text-anchor="middle" fill="#231f20" transform="translate(12.8,326.2) rotate(-90) scale(0.83,1)">-Log<tspan font-size="5.5" dy="2">10</tspan><tspan dy="-2">(p-value)</tspan></text>
</svg>
</body></html>
